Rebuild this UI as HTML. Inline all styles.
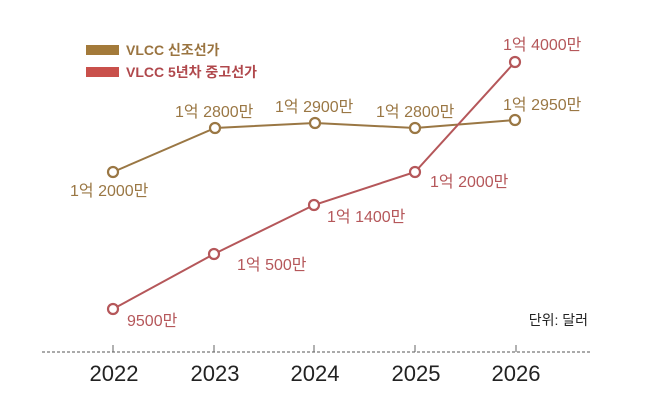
<!DOCTYPE html>
<html><head><meta charset="utf-8"><style>
html,body{margin:0;padding:0;background:#fff;}
svg text{font-family:"Liberation Sans","Noto Sans CJK KR",sans-serif;}
</style></head><body>
<svg width="650" height="415" viewBox="0 0 650 415" xmlns="http://www.w3.org/2000/svg">
<rect width="650" height="415" fill="#fff"/>
<rect x="86" y="45" width="33" height="10" fill="#a37a3a"/>
<rect x="86" y="67" width="33" height="10" fill="#c9504b"/>
<text x="126" y="55" font-size="14" font-weight="bold" fill="#9a7440">VLCC 신조선가</text>
<text x="126" y="77" font-size="14" font-weight="bold" fill="#b0484c">VLCC 5년차 중고선가</text>
<line x1="42" y1="352" x2="590" y2="352" stroke="#777" stroke-width="1.3" stroke-dasharray="3,2"/>
<g stroke="#666" stroke-width="1">
<line x1="113" y1="345" x2="113" y2="352"/><line x1="214" y1="345" x2="214" y2="352"/>
<line x1="314" y1="345" x2="314" y2="352"/><line x1="415" y1="345" x2="415" y2="352"/>
<line x1="516" y1="345" x2="516" y2="352"/></g>
<g font-size="22" fill="#222" text-anchor="middle">
<text x="114" y="381">2022</text><text x="215" y="381">2023</text><text x="315" y="381">2024</text><text x="416" y="381">2025</text><text x="516" y="381">2026</text></g>
<text x="588" y="325" font-size="14" fill="#222" text-anchor="end">단위: 달러</text>
<polyline points="113,172 215,128 315,123 415,128 515,120" fill="none" stroke="#9a7744" stroke-width="2"/>
<polyline points="113,309 214,254 314,205 415,172 515,62" fill="none" stroke="#b5575a" stroke-width="2"/>
<g fill="#fff" stroke="#9a7744" stroke-width="2.2">
<circle cx="113" cy="172" r="5"/><circle cx="215" cy="128" r="5"/><circle cx="315" cy="123" r="5"/><circle cx="415" cy="128" r="5"/><circle cx="515" cy="120" r="5"/></g>
<g fill="#fff" stroke="#b5575a" stroke-width="2.2">
<circle cx="113" cy="309" r="5"/><circle cx="214" cy="254" r="5"/><circle cx="314" cy="205" r="5"/><circle cx="415" cy="172" r="5"/><circle cx="515" cy="62" r="5"/></g>
<g font-size="16" fill="#9a7744">
<text x="70" y="196">1억 2000만</text>
<text x="175" y="117">1억 2800만</text>
<text x="275" y="112">1억 2900만</text>
<text x="376" y="117">1억 2800만</text>
<text x="503" y="110">1억 2950만</text></g>
<g font-size="16" fill="#b5575a">
<text x="503" y="50">1억 4000만</text>
<text x="430" y="187">1억 2000만</text>
<text x="327" y="222">1억 1400만</text>
<text x="237" y="270">1억 500만</text>
<text x="127" y="326">9500만</text></g>
</svg>
</body></html>
